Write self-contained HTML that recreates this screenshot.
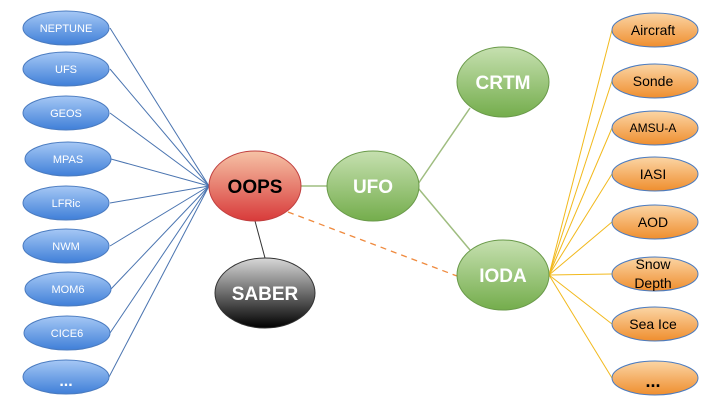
<!DOCTYPE html>
<html><head><style>body{margin:0;background:#fff}svg{display:block}</style></head><body>
<svg width="720" height="405" viewBox="0 0 720 405" xmlns="http://www.w3.org/2000/svg" font-family="'Liberation Sans',sans-serif">
<defs>
<linearGradient id="b" x1="0" y1="0" x2="0" y2="1"><stop offset="0" stop-color="#a6c8f5"/><stop offset="1" stop-color="#3f7fd8"/></linearGradient>
<linearGradient id="o" x1="0" y1="0" x2="0" y2="1"><stop offset="0" stop-color="#fbd5a5"/><stop offset="1" stop-color="#ef8e2e"/></linearGradient>
<linearGradient id="g" x1="0" y1="0" x2="0" y2="1"><stop offset="0" stop-color="#c6e0b0"/><stop offset="1" stop-color="#74ad4c"/></linearGradient>
<linearGradient id="r" x1="0" y1="0" x2="0" y2="1"><stop offset="0" stop-color="#f6c3a6"/><stop offset="1" stop-color="#d83a3a"/></linearGradient>
<linearGradient id="k" x1="0" y1="0" x2="0" y2="1"><stop offset="0" stop-color="#d8d8d8"/><stop offset="1" stop-color="#000"/></linearGradient>
</defs>
<g stroke="#4a74b0" stroke-width="1">
<line x1="209" y1="186" x2="110" y2="28"/><line x1="209" y1="186" x2="110" y2="69"/><line x1="209" y1="186" x2="110" y2="113"/><line x1="209" y1="186" x2="111" y2="159"/><line x1="209" y1="186" x2="110" y2="203"/><line x1="209" y1="186" x2="110" y2="246"/><line x1="209" y1="186" x2="111" y2="289"/><line x1="209" y1="186" x2="110" y2="333"/><line x1="209" y1="186" x2="109" y2="377"/>
</g>
<g stroke="#f2b91c" stroke-width="1">
<line x1="549" y1="275" x2="612" y2="30"/><line x1="549" y1="275" x2="612" y2="81"/><line x1="549" y1="275" x2="612" y2="128"/><line x1="549" y1="275" x2="612" y2="174"/><line x1="549" y1="275" x2="612" y2="222"/><line x1="549" y1="275" x2="612" y2="274"/><line x1="549" y1="275" x2="612" y2="324"/><line x1="549" y1="275" x2="612" y2="378"/>
</g>
<g stroke="#9fbd80" stroke-width="1.5">
<line x1="301" y1="186" x2="327" y2="186"/><line x1="418" y1="184" x2="470" y2="108"/><line x1="418" y1="188" x2="470" y2="250"/>
</g>
<line x1="288" y1="212" x2="457" y2="276" stroke="#ef8a3e" stroke-width="1.3" stroke-dasharray="6,5"/>
<line x1="255" y1="221" x2="265" y2="258" stroke="#333" stroke-width="1"/>
<g fill="url(#b)" stroke="#4a7bc0" stroke-width="1">
<ellipse cx="66" cy="28" rx="43" ry="17"/><ellipse cx="66" cy="69" rx="43" ry="17"/><ellipse cx="66" cy="113" rx="43" ry="17"/><ellipse cx="68" cy="159" rx="43" ry="17"/><ellipse cx="66" cy="203" rx="43" ry="17"/><ellipse cx="66" cy="246" rx="43" ry="17"/><ellipse cx="68" cy="289" rx="43" ry="17"/><ellipse cx="67" cy="333" rx="43" ry="17"/><ellipse cx="66" cy="377" rx="43" ry="17"/>
</g>
<g fill="#fff" font-size="11" text-anchor="middle">
<text x="66" y="32">NEPTUNE</text><text x="66" y="73">UFS</text><text x="66" y="117">GEOS</text><text x="68" y="163">MPAS</text><text x="66" y="207">LFRic</text><text x="66" y="250">NWM</text><text x="68" y="293">MOM6</text><text x="67" y="337">CICE6</text><text x="66" y="386" font-size="16" font-weight="bold">...</text>
</g>
<g fill="url(#o)" stroke="#4a7bc0" stroke-width="1">
<ellipse cx="655" cy="30" rx="43" ry="17"/><ellipse cx="655" cy="81" rx="43" ry="17"/><ellipse cx="655" cy="128" rx="43" ry="17"/><ellipse cx="655" cy="174" rx="43" ry="17"/><ellipse cx="655" cy="222" rx="43" ry="17"/><ellipse cx="655" cy="274" rx="43" ry="17"/><ellipse cx="655" cy="324" rx="43" ry="17"/><ellipse cx="655" cy="378" rx="43" ry="17"/>
</g>
<g fill="#000" font-size="14" text-anchor="middle">
<text x="653" y="35">Aircraft</text><text x="653" y="86">Sonde</text><text x="653" y="132" font-size="12">AMSU-A</text><text x="653" y="179">IASI</text><text x="653" y="227">AOD</text><text x="653" y="269">Snow</text><text x="653" y="288">Depth</text><text x="653" y="329">Sea Ice</text><text x="653" y="387" font-size="18" font-weight="bold">...</text>
</g>
<ellipse cx="255" cy="186" rx="46" ry="35" fill="url(#r)" stroke="#c04040"/>
<ellipse cx="265" cy="293" rx="50" ry="35" fill="url(#k)" stroke="#333"/>
<ellipse cx="373" cy="186" rx="46" ry="35" fill="url(#g)" stroke="#6a9a4a"/>
<ellipse cx="503" cy="82" rx="46" ry="35" fill="url(#g)" stroke="#6a9a4a"/>
<ellipse cx="503" cy="275" rx="46" ry="35" fill="url(#g)" stroke="#6a9a4a"/>
<g font-size="19" font-weight="bold" text-anchor="middle">
<text x="255" y="193" fill="#000">OOPS</text>
<text x="265" y="300" fill="#fff">SABER</text>
<text x="373" y="193" fill="#fff">UFO</text>
<text x="503" y="89" fill="#fff">CRTM</text>
<text x="503" y="282" fill="#fff">IODA</text>
</g>
</svg>
</body></html>
